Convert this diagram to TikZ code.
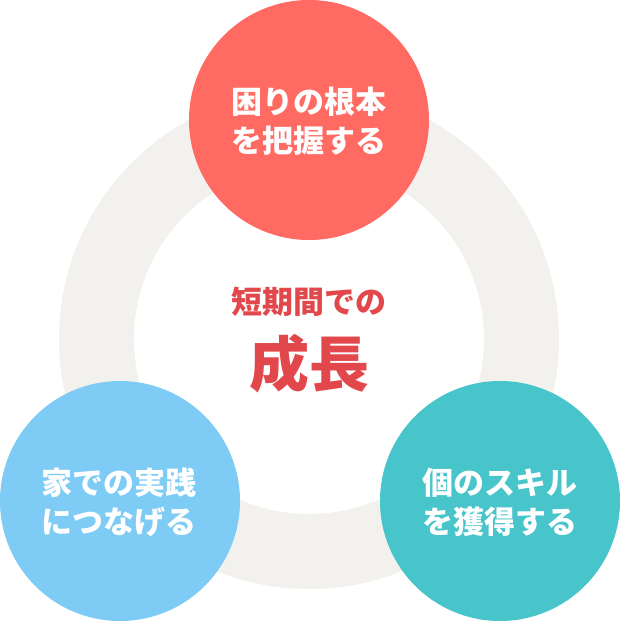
\documentclass[tikz,border=0pt]{standalone}
\usepackage{fontspec}
\setmainfont{Noto Sans CJK JP}
\usepackage{xcolor}
\usetikzlibrary{positioning}
\definecolor{ringgray}{HTML}{F2F1EE}
\definecolor{rootred}{HTML}{FF6A62}
\definecolor{homeblue}{HTML}{7ECBF5}
\definecolor{skillteal}{HTML}{48C4CB}
\definecolor{growred}{HTML}{E2474B}

\begin{document}
\begin{tikzpicture}[x=1pt, y=-1pt,
    bubble/.style={circle, minimum size=240pt, inner sep=0pt},
    bubbletext/.style={text=white, font=\bfseries\fontsize{31}{39}\selectfont, align=center}]
                        \useasboundingbox (0, 0) rectangle (620, 621);
                        % ring
                        \fill[ringgray, even odd rule]
                        (309, 339) circle[radius=250]
                        (309, 339) circle[radius=175];
                        % three bubbles
                        \node[bubble, fill=rootred] (root) at (309, 120) {};
                        \node[bubble, fill=homeblue] (home) at (120, 501) {};
                        \node[bubble, fill=skillteal] (skill) at (500, 501) {};
                        \node[bubbletext] at (309, 121) {困りの根本\\を把握する};
                        \node[bubbletext] at (119, 502) {家での実践\\につなげる};
                        \node[bubbletext] at (500, 502) {個のスキル\\を獲得する};
                        % centre
                        \node[text=growred, font=\bfseries\fontsize{31}{31}\selectfont] (period) at (309, 302) {短期間での};
                        \node[text=growred, font=\bfseries\fontsize{60}{60}\selectfont] (grow) at (309, 364) {成長};
                    \end{tikzpicture}
\end{document}
